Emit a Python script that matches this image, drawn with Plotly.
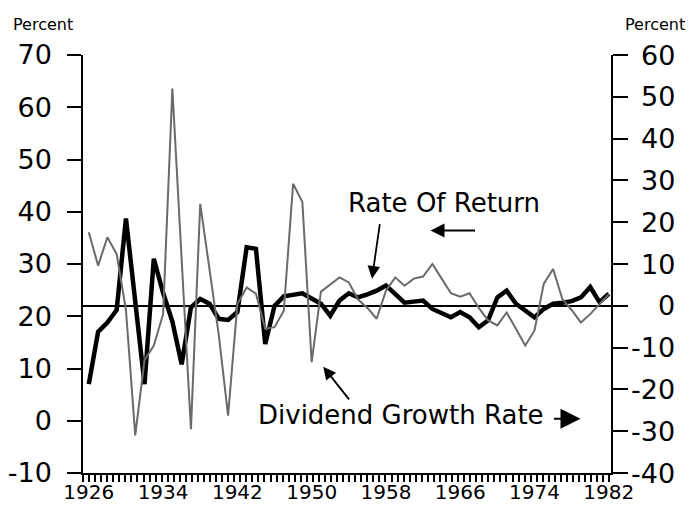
import numpy as np
import plotly.graph_objects as go

# Annual observations, 1926-1982
years = list(range(1926, 1983))

# Rate of return (left axis, percent)
rate_of_return = [
    7.0, 17.0, 18.8, 21.2, 38.7, 23.0, 7.0, 31.0, 24.5, 19.0,   # 1926-1935
    10.8, 21.7, 23.3, 22.4, 19.5, 19.3, 20.8, 33.2, 32.9, 14.7,  # 1936-1945
    22.0, 23.8, 24.2, 24.4, 23.4, 22.4, 20.1, 23.0, 24.4, 23.6,  # 1946-1955
    24.2, 24.9, 25.9, 24.3, 22.6, 22.8, 23.0, 21.4, 20.5, 19.8,  # 1956-1965
    20.8, 19.8, 17.9, 19.2, 23.6, 24.9, 22.4, 21.1, 19.8, 21.4,  # 1966-1975
    22.4, 22.6, 22.9, 23.6, 25.6, 22.7, 24.3,                    # 1976-1982
]

# Dividend growth rate (right axis, percent)
dividend_growth = [
    17.6, 9.6, 16.4, 12.4, -1.0, -31.0, -13.0, -9.5, -2.0, 52.0,  # 1926-1935
    11.0, -29.5, 24.4, 9.2, -7.0, -26.3, 0.4, 4.4, 2.9, -5.5,     # 1936-1945
    -5.1, -1.2, 29.2, 24.8, -13.5, 3.4, 5.0, 6.8, 5.6, 1.5,       # 1946-1955
    -0.5, -3.1, 3.6, 6.8, 4.8, 6.5, 7.0, 10.0, 6.5, 3.0,          # 1956-1965
    2.2, 3.0, -0.5, -3.5, -4.7, -1.6, -5.5, -9.5, -5.9, 5.3,      # 1966-1975
    8.8, 1.6, -1.0, -4.0, -2.0, 0.4, 2.8,                         # 1976-1982
]

left_ticks = [-10, 0, 10, 20, 30, 40, 50, 60, 70]
right_ticks = [-40, -30, -20, -10, 0, 10, 20, 30, 40, 50, 60]
year_labels = [1926, 1934, 1942, 1950, 1958, 1966, 1974, 1982]

FONT = "DejaVu Sans"
W, H = 689, 509
ML, MR, MT, MB = 83, 78, 55, 36
PW = W - ML - MR
PH = H - MT - MB


def px_to_paper_x(px):
    return (px - ML) / PW


def px_to_paper_y(py):
    return 1 - (py - MT) / PH


fig = go.Figure()

fig.add_trace(go.Scatter(
    x=years, y=dividend_growth, yaxis="y2", mode="lines",
    line=dict(color="#6a6a6a", width=2), name="Dividend Growth Rate",
))
fig.add_trace(go.Scatter(
    x=years, y=rate_of_return, mode="lines",
    line=dict(color="black", width=4.5), name="Rate Of Return",
))

x_lo, x_hi = 1925.375, 1982.237
minor_step = 0.6515

fig.update_layout(
    width=W, height=H,
    margin=dict(l=ML, r=MR, t=MT, b=MB, pad=0, autoexpand=False),
    paper_bgcolor="white", plot_bgcolor="white",
    showlegend=False,
    font=dict(family=FONT, color="black"),
    xaxis=dict(
        range=[x_lo, x_hi], showgrid=False, zeroline=False, automargin=False,
        showline=True, linecolor="black", linewidth=1.5,
        tickmode="array", tickvals=year_labels,
        ticktext=[str(y) for y in year_labels],
        ticks="outside", ticklen=0, tickwidth=1.5, tickcolor="black",
        tickfont=dict(size=20, family=FONT),
        minor=dict(ticks="outside", ticklen=7, tickwidth=1.5, tickcolor="black",
                   tick0=x_lo, dtick=minor_step, showgrid=False),
    ),
    yaxis=dict(
        range=[-10, 70], showgrid=False, zeroline=False, automargin=False,
        showline=True, linecolor="black", linewidth=1.5,
        tickmode="array", tickvals=left_ticks,
        ticktext=[str(v) for v in left_ticks],
        ticks="outside", ticklen=14, tickwidth=1.5, tickcolor="black",
        tickfont=dict(size=27, family=FONT), ticklabelstandoff=10,
    ),
    yaxis2=dict(
        range=[-40, 60], overlaying="y", side="right", automargin=False,
        showgrid=False, showline=True, linecolor="black", linewidth=1.5,
        zeroline=True, zerolinecolor="black", zerolinewidth=1.5,
        tickmode="array", tickvals=right_ticks, showticklabels=False,
        ticks="outside", ticklen=15, tickwidth=1.5, tickcolor="black",
    ),
)

annotations = []
# right-hand tick labels, right aligned
for v in right_ticks:
    annotations.append(dict(
        x=px_to_paper_x(677), xref="paper", xanchor="right",
        y=v, yref="y2", yanchor="middle", showarrow=False,
        text=str(v), font=dict(size=27, family=FONT),
    ))

# axis unit captions
annotations.append(dict(x=px_to_paper_x(43), xref="paper", xanchor="center",
                        y=px_to_paper_y(25), yref="paper", yanchor="middle",
                        text="Percent", showarrow=False, font=dict(size=16, family=FONT)))
annotations.append(dict(x=px_to_paper_x(687), xref="paper", xanchor="right",
                        y=px_to_paper_y(25), yref="paper", yanchor="middle",
                        text="Percent", showarrow=False, font=dict(size=16, family=FONT)))

# series captions
annotations.append(dict(x=1964.2, xref="x", y=41.6, yref="y", text="Rate Of Return",
                        showarrow=False, font=dict(size=26, family=FONT), xanchor="center"))
annotations.append(dict(x=1959.65, xref="x", y=-26.1, yref="y2", text="Dividend Growth Rate",
                        showarrow=False, font=dict(size=26, family=FONT), xanchor="center"))

# pointer arrows
annotations.append(dict(x=1956.5, xref="x", y=27.2, yref="y", text="", showarrow=True,
                        ax=8, ay=-56, arrowhead=2, arrowsize=1.4, arrowwidth=1.8, arrowcolor="black"))
annotations.append(dict(x=1962.8, xref="x", y=36.4, yref="y", text="", showarrow=True,
                        ax=46, ay=0, arrowhead=2, arrowsize=1.4, arrowwidth=2, arrowcolor="black"))
annotations.append(dict(x=1951.25, xref="x", y=-14.6, yref="y2", text="", showarrow=True,
                        ax=27, ay=34, arrowhead=2, arrowsize=1.4, arrowwidth=1.8, arrowcolor="black"))
annotations.append(dict(x=1978.95, xref="x", y=-27.0, yref="y2", text="", showarrow=True,
                        ax=-28, ay=0, arrowhead=2, arrowsize=2.0, arrowwidth=2, arrowcolor="black"))

fig.update_layout(annotations=annotations)

fig.write_html("out.html")
